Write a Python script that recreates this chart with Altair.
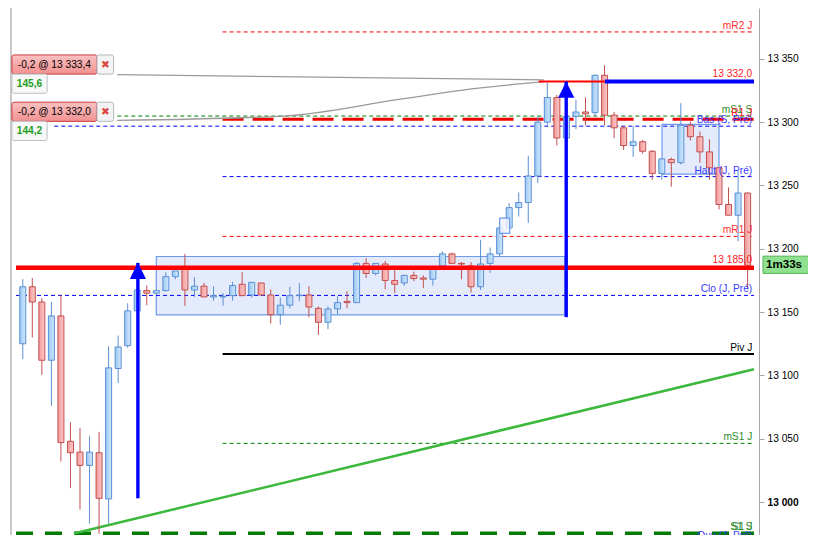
import altair as alt
import pandas as pd

# ---------------- data ----------------
opens = [13125, 13170, 13158, 13112, 13147, 13048, 13039.5, 13029, 13039, 13002.5,
         13105.5, 13123.5, 13151, 13167, 13165, 13167, 13178, 13184.5, 13167.5, 13170.5,
         13162, 13162, 13163, 13172, 13163.5, 13173, 13163.5, 13148, 13155.5, 13163,
         13163.5, 13153, 13142, 13152.5, 13158.5, 13157.5, 13188.5, 13180.5, 13188, 13175,
         13173, 13179, 13177, 13176, 13186.5, 13196, 13188.5, 13186.5, 13170, 13188.5,
         13196, 13216.5, 13232.5, 13236.5, 13257.5, 13300, 13319.5, 13287.5, 13304.5, 13308,
         13307.5, 13337, 13305.5, 13295.5, 13281.5, 13284.5, 13277, 13259.5, 13270.5, 13268,
         13297.5, 13288.5, 13276.5, 13264, 13235, 13226.5, 13244]
closes = [13170, 13158, 13112, 13147, 13047, 13039, 13029, 13039.5, 13003, 13106,
          13122.5, 13151, 13167.5, 13165, 13167, 13178, 13182.5, 13167.5, 13170.5, 13162,
          13163, 13162.5, 13171, 13163, 13173.5, 13163.5, 13148, 13155.5, 13163, 13163.5,
          13154, 13142, 13152.5, 13157.5, 13157.5, 13188.5, 13180.5, 13188.5, 13175, 13172,
          13179, 13176.5, 13176, 13185, 13196, 13188.5, 13188, 13170, 13188, 13196,
          13216.5, 13232.5, 13236.5, 13257.5, 13300, 13319.5, 13287.5, 13304.5, 13308, 13306.5,
          13337, 13305.5, 13295.5, 13281.5, 13284.5, 13277, 13259.5, 13271, 13268, 13297.5,
          13288.5, 13276.5, 13264, 13235, 13226.5, 13244, 13187]
highs = [13176, 13177, 13161, 13158, 13164, 13063, 13058.5, 13052, 13055.5, 13123,
         13131.5, 13157, 13172, 13171, 13167, 13181.5, 13182.5, 13196, 13177.5, 13173,
         13170.5, 13165, 13174, 13181.5, 13173.5, 13173, 13168, 13161.5, 13170, 13173,
         13170.5, 13154.5, 13154.5, 13162.5, 13166.5, 13189.5, 13192.5, 13188.5, 13190.5, 13185,
         13179.5, 13182, 13179, 13186.5, 13198, 13197, 13189.5, 13189.5, 13207, 13201,
         13223.5, 13236, 13244.5, 13273.5, 13304.5, 13331, 13321.5, 13308.5, 13317.5, 13319.5,
         13337.5, 13345, 13308, 13297, 13297, 13286, 13278, 13271, 13272, 13315,
         13300.5, 13292.5, 13286.5, 13264, 13248.5, 13261.5, 13244.5]
lows = [13113, 13130, 13100.5, 13076, 13032, 13011, 12994, 12983, 12975, 12983,
        13094, 13122, 13150.5, 13155.5, 13165, 13166.5, 13176, 13155, 13162, 13162,
        13159, 13155, 13159, 13163, 13161.5, 13163.5, 13141, 13140, 13153, 13158.5,
        13146, 13132, 13136.5, 13148, 13153, 13157.5, 13177, 13179, 13168, 13165,
        13170.5, 13174.5, 13169, 13171, 13186.5, 13188.5, 13176, 13165.5, 13167.5, 13181,
        13194, 13216.5, 13225.5, 13220.5, 13252, 13296, 13281.5, 13285.5, 13294.5, 13297.5,
        13304.5, 13297.5, 13287.5, 13278, 13272.5, 13275, 13254.5, 13254.5, 13249, 13266.5,
        13285.5, 13268, 13254.5, 13231, 13226.5, 13206, 13168]

XMIN, XMAX = -0.71, 76.67
YMIN, YMAX = 12974.05, 13390.1

level_names = ["mR2 J", "mS1 S", "R1 J", "Bas (S, Pré)", "Haut (J, Pré)", "mR1 J",
               "Clo (J, Pré)", "Piv J", "mS1 J", "S1 J", "S1 S", "Ouv (J, Pré)"]
level_prices = [13371.2, 13304.8, 13302.3, 13296.8, 13257.0, 13209.8,
                13163.2, 13117.0, 13046.4, 12975.3, 12975.3, 12968.5]
level_starts = [20.95, 9.91, 20.95, 3.3, 20.95, 20.95,
                XMIN, 20.95, 20.95, XMIN, XMIN, 20.95]

target_labels = ["13 332,0", "13 185,0"]
target_prices = [13332.0, 13185.0]

order_texts = ["-0,2 @ 13 333,4", "-0,2 @ 13 332,0"]
order_pnl = ["145,6", "144,2"]

arrow_x = [12.07, 56.98]
arrow_from = [13003.0, 13146.0]
arrow_to = [13188.9, 13332.0]

box_x0 = [14.0, 67.03, 50.0]
box_x1 = [56.85, 73.0, 51.05]
box_top = [13193.9, 13298.3, 13224.2]
box_bottom = [13147.8, 13259.0, 13212.1]

trend_x = [5.36, 76.67]
trend_y = [12975.3, 13104.9]

conn_top_x = [9.91, 54.62]
conn_top_y = [13337.5, 13333.4]
conn_bot_x = [9.91, 27.31, 39.45, 47.54, 54.62]
conn_bot_y = [13301.4, 13304.8, 13317.9, 13326.6, 13332.0]

y_ticks = [13000, 13050, 13100, 13150, 13200, 13250, 13300, 13350]
timer_text = "1m33s"

# ---------------- layout & styles ----------------
SVG_W, SVG_H = 800, 527          # must fit inside the page minus its 8px margins
SX, SY = SVG_W / 818, SVG_H / 550
PAD_L = 3
PLOT_W = round(765 * SX)
PLOT_H = SVG_H
PAD_R = SVG_W - PAD_L - PLOT_W


def px(x):
    return x * SX - PAD_L


def py(y):
    return y * SY


FONT = "Liberation Sans"
FS = 10.2
BLUE_S = "#5b8fd4"
RED_S = "#c24f4f"
grad_up = alt.Gradient(gradient="linear", x1=0, x2=1, y1=0, y2=0,
                       stops=[alt.GradientStop(color="#98c7f3", offset=0),
                              alt.GradientStop(color="#d4e9fc", offset=1)])
grad_down = alt.Gradient(gradient="linear", x1=0, x2=1, y1=0, y2=0,
                         stops=[alt.GradientStop(color="#f39a9a", offset=0),
                                alt.GradientStop(color="#fcc8c8", offset=1)])

level_style = {
    "mR2 J": ("#ff0000", 1, [4, 3], "#ff3030"),
    "mS1 S": ("#008000", 1, [4, 3], "#2e8b2e"),
    "R1 J": ("#ee0000", 3, [21, 9], "#ff2020"),
    "Bas (S, Pré)": ("#0000ff", 1, [4, 3], "#3a3aff"),
    "Haut (J, Pré)": ("#0000ff", 1, [4, 3], "#3a3aff"),
    "mR1 J": ("#ff0000", 1, [4, 3], "#ff3030"),
    "Clo (J, Pré)": ("#0000ff", 1, [4, 3], "#3a3aff"),
    "Piv J": ("#000000", 2, None, "#000000"),
    "mS1 J": ("#008000", 1, [4, 3], "#2e8b2e"),
    "S1 J": ("#007a00", 4, [17, 12], "#2e8b2e"),
    "S1 S": ("#007a00", 4, [17, 12], "#2e8b2e"),
    "Ouv (J, Pré)": ("#0000ff", 1, [4, 3], "#3a3aff"),
}

xs = alt.Scale(domain=[XMIN, XMAX], nice=False, zero=False)
ys = alt.Scale(domain=[YMIN, YMAX], nice=False, zero=False)

yaxis = alt.Axis(
    orient="right", values=y_ticks,
    labelExpr="replace(format(datum.value, ','), ',', ' ')",
    labelFont=FONT, labelFontSize=FS, labelColor="#000000",
    labelFontWeight=alt.condition("datum.value == 13000", alt.value("bold"), alt.value("normal")),
    tickSize=5, tickColor="#a8a8a8", domainColor="#a8a8a8", labelPadding=3,
    grid=False, title=None,
)


def X(f):
    return alt.X(f"{f}:Q", scale=xs, axis=None)


def Y(f):
    return alt.Y(f"{f}:Q", scale=ys, axis=yaxis)


layers = []

# left frame line
layers.append(alt.Chart(pd.DataFrame({"a": [0]})).mark_rule(color="#c8c8c8", strokeWidth=2).encode(
    x=alt.value(0), y=alt.value(0), y2=alt.value(PLOT_H)))

# range boxes under candles (first two)
bdf = pd.DataFrame({"x0": box_x0, "x1": box_x1, "top": box_top, "bottom": box_bottom})
layers.append(alt.Chart(bdf.iloc[:2]).mark_rect(fill="#e4ebfc", stroke="#6d9bea", strokeWidth=1.2).encode(
    x=X("x0"), x2="x1", y=Y("top"), y2="bottom"))

# level lines
ldf = pd.DataFrame({"name": level_names, "price": level_prices, "x0": level_starts})
ldf["x1"] = XMAX
for k, n in enumerate(level_names):
    if n == "S1 S":
        continue
    col, w, dash, _ = level_style[n]
    kw = dict(color=col, strokeWidth=w)
    if dash:
        kw["strokeDash"] = dash
    layers.append(alt.Chart(ldf.iloc[[k]]).mark_rule(**kw).encode(
        x=X("x0"), x2="x1", y=Y("price")))

# gray connectors from order tags
layers.append(alt.Chart(pd.DataFrame({"x": conn_top_x, "y": conn_top_y})).mark_line(
    color="#9a9a9a", strokeWidth=1.3).encode(x=X("x"), y=Y("y")))
layers.append(alt.Chart(pd.DataFrame({"x": conn_bot_x, "y": conn_bot_y})).mark_line(
    color="#9a9a9a", strokeWidth=1.3, interpolate="monotone").encode(x=X("x"), y=Y("y")))

# green trend line
layers.append(alt.Chart(pd.DataFrame({"x": trend_x, "y": trend_y})).mark_line(
    color="#3cb83c", strokeWidth=2.5).encode(x=X("x"), y=Y("y")))

# candles
cdf = pd.DataFrame({"i": list(range(len(opens))), "open": opens, "high": highs,
                    "low": lows, "close": closes})
cdf["dir"] = ["up" if c >= o else "down" for o, c in zip(opens, closes)]
layers.append(alt.Chart(cdf).mark_rule(strokeWidth=1).encode(
    x=X("i"), y=Y("low"), y2="high",
    stroke=alt.Stroke("dir:N", scale=alt.Scale(domain=["up", "down"], range=[BLUE_S, RED_S]), legend=None)))
layers.append(alt.Chart(cdf).transform_filter("datum.dir == 'up'").mark_bar(
    size=6, fill=grad_up, stroke=BLUE_S, strokeWidth=1).encode(x=X("i"), y=Y("open"), y2="close"))
layers.append(alt.Chart(cdf).transform_filter("datum.dir == 'down'").mark_bar(
    size=6, fill=grad_down, stroke=RED_S, strokeWidth=1).encode(x=X("i"), y=Y("open"), y2="close"))

# small box over candles
layers.append(alt.Chart(bdf.iloc[2:]).mark_rect(fill="#eef2fd", fillOpacity=0.85, stroke="#6d9bea", strokeWidth=1.2).encode(
    x=X("x0"), x2="x1", y=Y("top"), y2="bottom"))

# target lines (thick)
tdf = pd.DataFrame({"label": target_labels, "price": target_prices,
                    "x0": [61.03, XMIN], "x1": [XMAX, XMAX]})
layers.append(alt.Chart(tdf.iloc[[0]]).mark_rule(color="#0000ff", strokeWidth=4).encode(
    x=X("x0"), x2="x1", y=Y("price")))
layers.append(alt.Chart(pd.DataFrame({"x0": [54.1], "x1": [61.03], "price": [target_prices[0]]})).mark_rule(
    color="#ff0000", strokeWidth=2).encode(x=X("x0"), x2="x1", y=Y("price")))
layers.append(alt.Chart(tdf.iloc[[1]]).mark_rule(color="#ff0000", strokeWidth=4.5).encode(
    x=X("x0"), x2="x1", y=Y("price")))

# arrows
adf = pd.DataFrame({"x": arrow_x, "from": arrow_from, "to": arrow_to})
layers.append(alt.Chart(adf).mark_rule(color="#0000ff", strokeWidth=3.4).encode(
    x=X("x"), y=Y("from"), y2="to"))
layers.append(alt.Chart(adf).mark_point(shape="M0,0L-1,2L1,2Z", filled=True, size=262,
                                         color="#0000ff", opacity=1, strokeWidth=0).encode(
    x=X("x"), y=Y("to")))

# level labels
lab = ldf.copy()
lab["col"] = [level_style[n][3] for n in level_names]
layers.append(alt.Chart(lab).mark_text(align="right", baseline="alphabetic", dy=-3,
                                       font=FONT, fontSize=FS).encode(
    x=alt.value(px(761)), y=Y("price"), text="name:N", color=alt.Color("col:N", scale=None)))
layers.append(alt.Chart(tdf).mark_text(align="right", baseline="alphabetic", dy=-4.5,
                                       font=FONT, fontSize=FS, color="#ff2020").encode(
    x=alt.value(px(761)), y=Y("price"), text="label:N"))

# order tags (overlay widgets)
for k in range(2):
    top = 49 + 49.3 * k
    one = pd.DataFrame({"t": [order_texts[k]], "p": [order_pnl[k]]})
    layers.append(alt.Chart(one).mark_rect(
        fill=alt.Gradient(gradient="linear", x1=0, x2=0, y1=0, y2=1,
                          stops=[alt.GradientStop(color="#f9c2c2", offset=0),
                                 alt.GradientStop(color="#f29090", offset=1)]),
        stroke="#c63a3a", strokeWidth=1, cornerRadius=2).encode(
        x=alt.value(px(4)), x2=alt.value(px(91)), y=alt.value(py(top)), y2=alt.value(py(top + 20))))
    layers.append(alt.Chart(one).mark_rect(fill="#f3f3f3", stroke="#b0b8c0", strokeWidth=1, cornerRadius=2).encode(
        x=alt.value(px(91)), x2=alt.value(px(108)), y=alt.value(py(top)), y2=alt.value(py(top + 20))))
    layers.append(alt.Chart(one).mark_rect(fill="#f8f8f8", stroke="#b8c0c8", strokeWidth=1, cornerRadius=2).encode(
        x=alt.value(px(4)), x2=alt.value(px(40)), y=alt.value(py(top + 20)), y2=alt.value(py(top + 40))))
    layers.append(alt.Chart(one).mark_text(align="left", baseline="middle", font=FONT, fontSize=FS,
                                           color="#000000").encode(
        x=alt.value(px(10)), y=alt.value(py(top + 10.5)), text="t:N"))
    layers.append(alt.Chart(one).mark_text(align="center", baseline="middle", font="DejaVu Sans",
                                           fontSize=10.5, color="#d9463f").encode(
        x=alt.value(px(99.5)), y=alt.value(py(top + 10.5)), text=alt.value("✖")))
    layers.append(alt.Chart(one).mark_text(align="center", baseline="middle", font=FONT, fontSize=FS,
                                           fontWeight="bold", color="#1e9e1e").encode(
        x=alt.value(px(22)), y=alt.value(py(top + 30.5)), text="p:N"))

# timer tag on the axis
tt = pd.DataFrame({"t": [timer_text]})
layers.append(alt.Chart(tt).mark_rect(fill="#8fe08f", stroke="#52b452", strokeWidth=1).encode(
    x=alt.value(px(772)), x2=alt.value(px(825)), y=alt.value(py(259)), y2=alt.value(py(277))))
layers.append(alt.Chart(tt).mark_text(align="left", baseline="middle", font=FONT, fontSize=11.6,
                                      fontWeight="bold", color="#000000").encode(
    x=alt.value(px(775)), y=alt.value(py(268.5)), text="t:N"))

chart = alt.layer(*layers).properties(
    width=PLOT_W, height=PLOT_H,
    padding={"left": PAD_L, "top": 0, "right": PAD_R, "bottom": 0},
    autosize=alt.AutoSizeParams(type="none"),
    background="white",
).configure_view(stroke=None)

chart.save("out.html", embed_options={"renderer": "svg", "actions": False})
